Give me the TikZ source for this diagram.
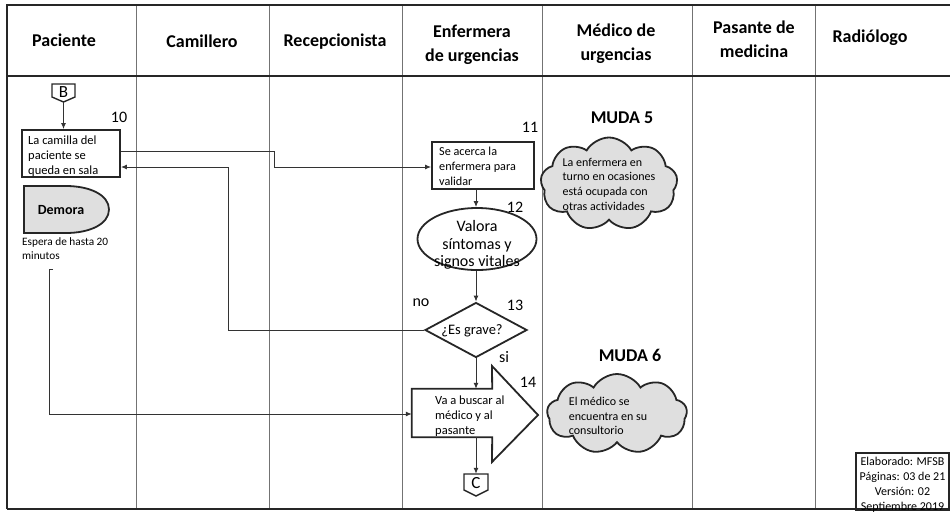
\documentclass[tikz,border=0pt]{standalone}
\usepackage{fontspec}
\setmainfont{Carlito}
\usetikzlibrary{shapes.geometric,shapes.symbols,arrows.meta}

\tikzset{
  frame/.style={line width=2pt, black!85},
  lane/.style={line width=0.8pt, black!55},
  hdr/.style={font=\fontsize{18}{24}\selectfont\bfseries, align=center, inner sep=0pt},
  flow/.style={line width=1pt, black!80},
  arr/.style={flow, -{Latex[length=6pt,width=5pt]}},
  shp/.style={line width=1.8pt, black!85},
  txt/.style={font=\fontsize{12.5}{15}\selectfont, align=left, inner sep=0pt},
  num/.style={font=\fontsize{16}{18}\selectfont, inner sep=0pt},
  muda/.style={font=\fontsize{18}{20}\selectfont\bfseries, inner sep=0pt},
  cloudy/.style={cloud, cloud puffs=9, cloud puff arc=120, cloud ignores aspect,
    draw, shp, fill=gray!25, inner sep=0pt},
  connector/.style={inner sep=0pt, font=\fontsize{17}{17}\selectfont},
}

\begin{document}
\begin{tikzpicture}[x=1pt,y=-1pt]
\useasboundingbox (0,0) rectangle (950,512);

% swimlane grid
\foreach \x in {136,269,402,542,692,815}
  \draw[lane] (\x,5) -- (\x,509);
\draw[frame] (7,509) -- (7,5) -- (950,5);
\draw[frame] (7,76) -- (950,76);
\draw[frame] (7,509) -- (950,509);

% lane headers
\node[hdr] (hPac) at (64,40) {Paciente};
\node[hdr] (hCam) at (202,41) {Camillero};
\node[hdr] (hRec) at (335,42) {Recepcionista};
\node[hdr] (hEnf) at (472,45) {Enfermera\\de urgencias};
\node[hdr] (hMed) at (616,44) {Médico de\\urgencias};
\node[hdr] (hPas) at (754,39) {Pasante de\\medicina};
\node[hdr] (hRad) at (870,38) {Radiólogo};

% off-page connector B
\node[connector, minimum width=23pt, minimum height=18pt] (b) at (63.5,92.5) {B};
\draw[shp, line width=1.4pt] (52,84) -- (75,84) -- (75,97) -- (63.5,102) -- (52,97) -- cycle;

% step 10
\node[draw, shp, minimum width=98pt, minimum height=47pt, inner sep=0pt] (n10) at (71,153.5) {};
\node[txt, anchor=north west] (t10) at (28,136) {La camilla del\\paciente se\\queda en sala};
\node[num] (l10) at (119,117) {10};
\draw[arr] (b.south) -- (n10.north -| b.south);

% delay
\node[minimum width=85pt, minimum height=47pt, inner sep=0pt] (dem) at (66.5,209.5) {};
\draw[shp, fill=gray!25] (24,186) -- (66,186) .. controls (90,186) and (109,195) .. (109,209.5)
  .. controls (109,224) and (90,233) .. (66,233) -- (24,233) -- cycle;
\node[font=\fontsize{14}{16}\selectfont\bfseries, inner sep=0pt] (tdem) at (61,210) {Demora};
\node[font=\fontsize{11.3}{14}\selectfont, align=left, inner sep=0pt, anchor=north west] (tesp) at (22,237) {Espera de hasta 20\\minutos};
\coordinate (wait) at (53,269);

% step 11
\node[draw, shp, minimum width=102pt, minimum height=47pt, inner sep=0pt] (n11) at (483,165.5) {};
\node[txt, font=\fontsize{12.2}{15}\selectfont, anchor=north west] (t11) at (439,147) {Se acerca la\\enfermera para\\validar};
\node[num] (l11) at (530,127) {11};

% step 12
\node[draw, shp, ellipse, minimum width=119pt, minimum height=62pt, inner sep=0pt] (e12) at (477,239) {};
\node[font=\fontsize{16}{17.5}\selectfont, align=center, inner sep=0pt] (t12) at (477,245) {Valora\\síntomas y\\signos vitales};
\node[num] (l12) at (515,207) {12};

% step 13
\node[draw, shp, diamond, minimum width=102pt, minimum height=55pt, inner sep=0pt] (d13) at (476,330) {};
\node[font=\fontsize{14.5}{16}\selectfont, inner sep=0pt] (t13) at (472,331) {¿Es grave?};
\node[num] (l13) at (515,305) {13};
\node[num] (lno) at (421,303) {no};
\node[num] (lsi) at (504,357) {si};

% step 14
\node[minimum width=80pt, minimum height=48pt, inner sep=0pt] (a14) at (452,413) {};
\draw[shp, line join=miter] (a14.north west) -- (a14.north east) -- (492,366) -- (538,415)
  -- (492,462) -- (a14.south east) -- (a14.south west) -- cycle;
\node[txt, anchor=north west] (t14) at (435,396) {Va a buscar al\\médico y al\\pasante};
\node[num] (l14) at (528,382) {14};

% off-page connector C
\node[connector, minimum width=24pt, minimum height=18pt] (c) at (476,483) {C};
\draw[shp, line width=1.4pt] (464,474) -- (488,474) -- (488,490) -- (476,496) -- (464,490) -- cycle;

% flow
\draw[arr] (n10.east |- 0,151) -| (274,167) -- (n11.west |- 0,167);
\draw[arr] (n11.south -| d13.north) -- (e12.north -| d13.north);
\draw[arr] (e12.south -| d13.north) -- (d13.north);
\draw[arr] (d13.west) -- (228,330) |- (n10.east |- 0,167);
\draw[arr] (d13.south) -- (d13.south |- a14.north);
\draw[arr] (wait) -- (49,269) -- (49,414) -- (a14.west |- 0,414);
\draw[arr] (d13.south |- a14.south) -- (c.north);

% waste notes
\node[muda] (m5) at (622,118) {MUDA 5};
\node[cloudy, minimum width=137pt, minimum height=93pt] (c5) at (609,184) {};
\node[font=\fontsize{12}{14.7}\selectfont, align=left, inner sep=0pt] (t5) at (609,184)
  {La enfermera en\\turno en ocasiones\\está ocupada con\\otras actividades};

\node[muda] (m6) at (630,355) {MUDA 6};
\node[cloudy, minimum width=140pt, minimum height=80pt] (c6) at (617,414) {};
\node[font=\fontsize{12}{14.7}\selectfont, align=left, inner sep=0pt] (t6) at (608,416)
  {El médico se\\encuentra en su\\consultorio};

% document info
\node[draw, shp, minimum width=93pt, minimum height=57pt, inner sep=0pt] (info) at (902.5,481.5) {};
\node[font=\fontsize{12}{15}\selectfont, align=center, inner sep=0pt] (tinfo) at (902.5,484.5)
  {Elaborado: MFSB\\Páginas: 03 de 21\\Versión: 02\\Septiembre 2019};
\end{tikzpicture}
\end{document}
